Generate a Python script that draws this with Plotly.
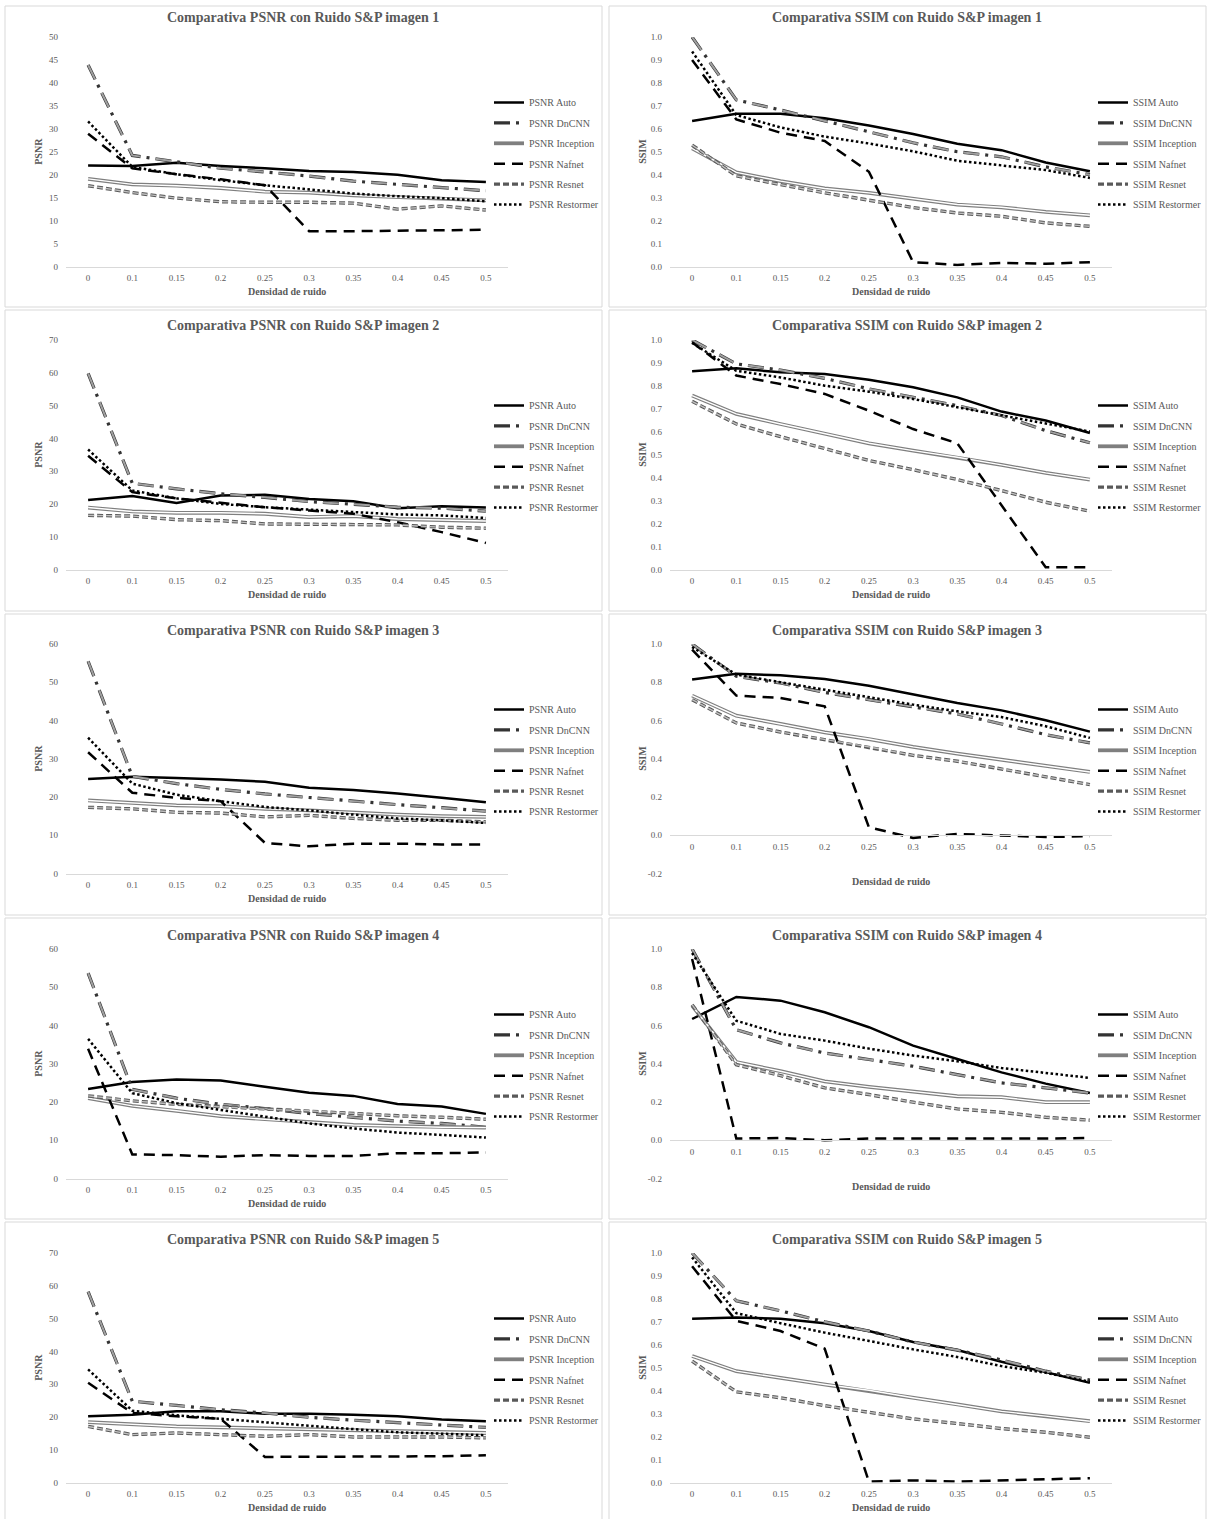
import plotly.graph_objects as go

W, H = 1209, 1519
SERIF = "Liberation Serif, Times New Roman, serif"
TEXT = "#595959"

categories = ["0", "0.1", "0.15", "0.2", "0.25", "0.3", "0.35", "0.4", "0.45", "0.5"]
methods = ["Auto", "DnCNN", "Inception", "Nafnet", "Resnet", "Restormer"]

# ---- PSNR / SSIM image 1
psnr1_auto = [22.0, 21.9, 22.6, 21.9, 21.4, 20.8, 20.6, 20.0, 18.8, 18.4]
psnr1_dncnn = [43.9, 24.2, 22.8, 21.4, 20.6, 19.7, 18.6, 17.9, 17.2, 16.5]
psnr1_inception = [19.1, 17.9, 17.6, 17.1, 16.3, 16.1, 15.5, 15.1, 14.9, 14.4]
psnr1_nafnet = [28.9, 21.4, 20.1, 19.0, 17.7, 7.7, 7.7, 7.8, 8.0, 8.0]
psnr1_resnet = [17.6, 16.1, 14.9, 14.1, 14.0, 14.0, 13.8, 12.5, 13.2, 12.3]
psnr1_restormer = [31.6, 21.7, 20.1, 18.8, 17.7, 16.8, 15.9, 15.3, 14.9, 14.2]

ssim1_auto = [0.634, 0.666, 0.666, 0.646, 0.614, 0.577, 0.535, 0.507, 0.453, 0.415]
ssim1_dncnn = [1.0, 0.726, 0.682, 0.636, 0.587, 0.539, 0.500, 0.478, 0.434, 0.400]
ssim1_inception = [0.515, 0.410, 0.372, 0.340, 0.321, 0.296, 0.270, 0.258, 0.238, 0.223]
ssim1_nafnet = [0.900, 0.641, 0.583, 0.547, 0.413, 0.019, 0.007, 0.016, 0.012, 0.019]
ssim1_resnet = [0.529, 0.395, 0.357, 0.321, 0.289, 0.257, 0.233, 0.219, 0.190, 0.175]
ssim1_restormer = [0.937, 0.660, 0.606, 0.566, 0.536, 0.502, 0.461, 0.442, 0.420, 0.386]

# ---- image 2
psnr2_auto = [21.2, 22.4, 20.3, 22.6, 22.8, 21.5, 20.8, 18.7, 19.3, 18.9]
psnr2_dncnn = [59.8, 26.3, 24.6, 23.1, 22.0, 20.7, 19.9, 19.0, 18.7, 17.8]
psnr2_inception = [18.9, 17.7, 17.3, 17.3, 17.0, 16.0, 16.3, 15.4, 15.1, 14.8]
psnr2_nafnet = [34.7, 23.6, 21.7, 20.3, 19.0, 18.0, 17.0, 14.4, 11.4, 8.1]
psnr2_resnet = [16.5, 16.3, 15.2, 14.9, 13.9, 13.8, 13.8, 13.6, 12.9, 12.6]
psnr2_restormer = [36.6, 24.1, 21.7, 20.0, 19.0, 18.3, 17.5, 16.8, 16.5, 15.7]

ssim2_auto = [0.864, 0.877, 0.859, 0.852, 0.827, 0.794, 0.750, 0.688, 0.649, 0.595]
ssim2_dncnn = [1.0, 0.896, 0.869, 0.833, 0.787, 0.750, 0.714, 0.671, 0.605, 0.552]
ssim2_inception = [0.758, 0.678, 0.634, 0.591, 0.550, 0.518, 0.489, 0.456, 0.421, 0.392]
ssim2_nafnet = [0.990, 0.845, 0.808, 0.765, 0.692, 0.612, 0.550, 0.279, 0.010, 0.010]
ssim2_resnet = [0.733, 0.634, 0.579, 0.528, 0.475, 0.435, 0.392, 0.344, 0.293, 0.254]
ssim2_restormer = [0.987, 0.866, 0.837, 0.801, 0.775, 0.743, 0.707, 0.671, 0.634, 0.601]

# ---- image 3
psnr3_auto = [24.7, 25.3, 25.0, 24.6, 24.0, 22.4, 21.8, 20.9, 19.8, 18.6]
psnr3_dncnn = [55.5, 25.4, 23.5, 22.0, 20.8, 19.8, 18.9, 18.0, 17.2, 16.3]
psnr3_inception = [19.1, 18.5, 17.8, 17.6, 16.9, 16.5, 15.9, 15.4, 15.0, 14.8]
psnr3_nafnet = [31.7, 21.1, 19.8, 18.9, 8.0, 7.1, 7.8, 7.8, 7.6, 7.6]
psnr3_resnet = [17.3, 16.9, 16.0, 15.8, 14.8, 15.2, 14.4, 13.9, 13.9, 13.5]
psnr3_restormer = [35.5, 23.5, 20.6, 18.9, 17.4, 16.5, 15.4, 14.4, 13.9, 13.2]

ssim3_auto = [0.814, 0.845, 0.836, 0.817, 0.782, 0.735, 0.692, 0.653, 0.601, 0.542]
ssim3_dncnn = [1.0, 0.831, 0.796, 0.747, 0.709, 0.671, 0.634, 0.582, 0.526, 0.483]
ssim3_inception = [0.730, 0.625, 0.582, 0.538, 0.503, 0.462, 0.427, 0.395, 0.361, 0.331]
ssim3_nafnet = [0.970, 0.730, 0.718, 0.674, 0.042, -0.014, 0.007, 0.0, -0.009, -0.005]
ssim3_resnet = [0.709, 0.587, 0.540, 0.500, 0.462, 0.418, 0.387, 0.347, 0.308, 0.265]
ssim3_restormer = [0.984, 0.840, 0.800, 0.761, 0.723, 0.683, 0.648, 0.618, 0.570, 0.509]

# ---- image 4
psnr4_auto = [23.4, 25.2, 25.9, 25.6, 24.0, 22.4, 21.6, 19.5, 18.8, 16.9]
psnr4_dncnn = [53.7, 23.3, 21.0, 19.4, 18.3, 17.0, 16.0, 15.0, 14.4, 13.4]
psnr4_inception = [21.0, 19.0, 17.7, 16.3, 15.5, 14.7, 14.0, 13.7, 13.4, 13.3]
psnr4_nafnet = [33.9, 6.3, 6.1, 5.7, 6.1, 5.9, 5.9, 6.6, 6.6, 6.8]
psnr4_resnet = [21.6, 20.3, 19.4, 18.8, 18.1, 17.7, 17.0, 16.4, 16.0, 15.5]
psnr4_restormer = [36.5, 22.3, 19.7, 17.9, 16.2, 14.4, 13.1, 12.0, 11.4, 10.7]

ssim4_auto = [0.634, 0.749, 0.730, 0.669, 0.591, 0.495, 0.425, 0.355, 0.296, 0.247]
ssim4_dncnn = [1.0, 0.578, 0.509, 0.456, 0.422, 0.387, 0.343, 0.300, 0.274, 0.247]
ssim4_inception = [0.704, 0.409, 0.361, 0.308, 0.279, 0.256, 0.230, 0.225, 0.199, 0.199]
ssim4_nafnet = [0.948, 0.009, 0.012, 0.0, 0.009, 0.009, 0.009, 0.007, 0.009, 0.012]
ssim4_resnet = [0.709, 0.395, 0.338, 0.274, 0.239, 0.199, 0.164, 0.146, 0.120, 0.105]
ssim4_restormer = [0.979, 0.625, 0.556, 0.521, 0.479, 0.443, 0.413, 0.378, 0.352, 0.326]

# ---- image 5
psnr5_auto = [20.2, 20.7, 21.7, 21.7, 21.0, 21.0, 20.7, 20.2, 19.2, 18.7]
psnr5_dncnn = [58.2, 24.8, 23.5, 22.2, 21.2, 19.9, 19.0, 18.2, 17.4, 16.8]
psnr5_inception = [18.4, 17.7, 17.1, 16.8, 16.5, 16.3, 15.9, 15.6, 15.3, 15.1]
psnr5_nafnet = [30.4, 21.2, 20.2, 19.4, 7.8, 7.8, 8.0, 8.0, 8.0, 8.3]
psnr5_resnet = [17.1, 14.6, 15.1, 14.6, 14.1, 14.6, 13.9, 13.9, 13.9, 13.6]
psnr5_restormer = [34.5, 21.9, 20.5, 19.4, 18.2, 17.3, 16.3, 15.3, 14.9, 14.4]

ssim5_auto = [0.714, 0.719, 0.714, 0.694, 0.660, 0.612, 0.577, 0.526, 0.481, 0.434]
ssim5_dncnn = [1.0, 0.792, 0.748, 0.700, 0.660, 0.612, 0.577, 0.534, 0.485, 0.446]
ssim5_inception = [0.551, 0.485, 0.456, 0.427, 0.402, 0.369, 0.340, 0.310, 0.289, 0.267]
ssim5_nafnet = [0.942, 0.704, 0.660, 0.583, 0.004, 0.009, 0.004, 0.009, 0.012, 0.019]
ssim5_resnet = [0.529, 0.395, 0.369, 0.335, 0.306, 0.277, 0.257, 0.235, 0.219, 0.197]
ssim5_restormer = [0.981, 0.738, 0.694, 0.653, 0.617, 0.580, 0.547, 0.507, 0.478, 0.439]

# ---- tick labels
psnr_ticks_50 = [0, 5, 10, 15, 20, 25, 30, 35, 40, 45, 50]
psnr_ticks_60 = [0, 10, 20, 30, 40, 50, 60]
psnr_ticks_70 = [0, 10, 20, 30, 40, 50, 60, 70]
ssim_ticks_pos = [0.0, 0.1, 0.2, 0.3, 0.4, 0.5, 0.6, 0.7, 0.8, 0.9, 1.0]
ssim_ticks_neg = [-0.2, 0.0, 0.2, 0.4, 0.6, 0.8, 1.0]

panels = [
    ("PSNR", 1, [psnr1_auto, psnr1_dncnn, psnr1_inception, psnr1_nafnet, psnr1_resnet, psnr1_restormer], psnr_ticks_50),
    ("SSIM", 1, [ssim1_auto, ssim1_dncnn, ssim1_inception, ssim1_nafnet, ssim1_resnet, ssim1_restormer], ssim_ticks_pos),
    ("PSNR", 2, [psnr2_auto, psnr2_dncnn, psnr2_inception, psnr2_nafnet, psnr2_resnet, psnr2_restormer], psnr_ticks_70),
    ("SSIM", 2, [ssim2_auto, ssim2_dncnn, ssim2_inception, ssim2_nafnet, ssim2_resnet, ssim2_restormer], ssim_ticks_pos),
    ("PSNR", 3, [psnr3_auto, psnr3_dncnn, psnr3_inception, psnr3_nafnet, psnr3_resnet, psnr3_restormer], psnr_ticks_60),
    ("SSIM", 3, [ssim3_auto, ssim3_dncnn, ssim3_inception, ssim3_nafnet, ssim3_resnet, ssim3_restormer], ssim_ticks_neg),
    ("PSNR", 4, [psnr4_auto, psnr4_dncnn, psnr4_inception, psnr4_nafnet, psnr4_resnet, psnr4_restormer], psnr_ticks_60),
    ("SSIM", 4, [ssim4_auto, ssim4_dncnn, ssim4_inception, ssim4_nafnet, ssim4_resnet, ssim4_restormer], ssim_ticks_neg),
    ("PSNR", 5, [psnr5_auto, psnr5_dncnn, psnr5_inception, psnr5_nafnet, psnr5_resnet, psnr5_restormer], psnr_ticks_70),
    ("SSIM", 5, [ssim5_auto, ssim5_dncnn, ssim5_inception, ssim5_nafnet, ssim5_resnet, ssim5_restormer], ssim_ticks_pos),
]

# ---- line styles (first layer carries the legend entry)
styles = {
    "Auto": [dict(color="#000000", width=2.5, dash="solid")],
    "DnCNN": [dict(color="#333333", width=3.2, dash="16px,6px,3px,6px"),
              dict(color="#a0a0a0", width=2.0, dash="16px,15px")],
    "Inception": [dict(color="#7f7f7f", width=3.8, dash="solid"),
                  dict(color="#ffffff", width=1.4, dash="solid")],
    "Nafnet": [dict(color="#000000", width=2.5, dash="11px,7px")],
    "Resnet": [dict(color="#595959", width=3.4, dash="6px,3px"),
               dict(color="#bfbfbf", width=1.4, dash="6px,3px")],
    "Restormer": [dict(color="#000000", width=2.5, dash="2.5px,2.5px")],
}

row_top = [37, 340, 644, 949, 1253]
title_y = [18, 326, 630, 935, 1239]
PLOT_H = 229.5
box_top = [6, 310, 614, 918, 1222]
col_off = [0, 604]

def px(x):
    return x / W

def py(y):
    return 1 - y / H

fig = go.Figure()
layout = dict(
    width=W, height=H,
    margin=dict(l=0, r=0, t=0, b=0, autoexpand=False),
    paper_bgcolor="white", plot_bgcolor="white",
    showlegend=True,
)
annotations = []
shapes = []

for k, (metric, img, series, ticks) in enumerate(panels):
    r, c = divmod(k, 2)
    off = col_off[c]
    n = k + 1
    xname = "xaxis" if n == 1 else f"xaxis{n}"
    yname = "yaxis" if n == 1 else f"yaxis{n}"
    xref = "x" if n == 1 else f"x{n}"
    yref = "y" if n == 1 else f"y{n}"
    legname = "legend" if n == 1 else f"legend{n}"

    top = row_top[r]
    bottom = top + PLOT_H
    x0, x1 = 66 + off, 508 + off
    ymin, ymax = ticks[0], ticks[-1]
    ydom = [py(bottom), py(top)]

    shapes.append(dict(type="rect", xref="paper", yref="paper",
                       x0=px(5 + off), x1=px(602 + off),
                       y0=py(box_top[r] + 301), y1=py(box_top[r]),
                       line=dict(color="#d9d9d9", width=1), fillcolor="rgba(0,0,0,0)", layer="below"))

    if metric == "SSIM":
        ticktext = [f"{v:.1f}" for v in ticks]
    else:
        ticktext = [str(v) for v in ticks]

    xax = dict(domain=[px(x0), px(x1)], type="category", range=[-0.5, 9.5],
               showline=True, linecolor="#d9d9d9", linewidth=1, ticks="",
               showgrid=False, zeroline=False, fixedrange=True,
               tickfont=dict(family=SERIF, size=9, color=TEXT), ticklabelstandoff=3)
    if ymin < 0:
        frac = (0 - ymin) / (ymax - ymin)
        xax["anchor"] = "free"
        xax["position"] = ydom[0] + (ydom[1] - ydom[0]) * frac
    else:
        xax["anchor"] = yref
    layout[xname] = xax
    layout[yname] = dict(domain=ydom, anchor=xref, range=[ymin, ymax],
                         tickvals=ticks, ticktext=ticktext, ticks="",
                         showgrid=False, zeroline=False, showline=False, fixedrange=True,
                         tickfont=dict(family=SERIF, size=9, color=TEXT), ticklabelstandoff=7)

    layout[legname] = dict(x=px(489 + off), y=py(top + 51), xanchor="left", yanchor="top",
                           bgcolor="rgba(0,0,0,0)", font=dict(family=SERIF, size=10, color=TEXT),
                           tracegroupgap=1.4, itemwidth=30, itemclick=False, itemdoubleclick=False)

    for m, vals in zip(methods, series):
        for li, ln in enumerate(styles[m]):
            fig.add_trace(go.Scatter(
                x=categories, y=vals, mode="lines", line=ln,
                name=f"{metric} {m}", legend=legname, legendgroup=f"{n}-{m}",
                showlegend=(li == 0), xaxis=xref, yaxis=yref, cliponaxis=False,
                hoverinfo="skip" if li > 0 else None,
            ))

    annotations.append(dict(text=f"<b>Comparativa {metric} con Ruido S&P imagen {img}</b>",
                            xref="paper", yref="paper", x=px(303 + off), y=py(title_y[r]),
                            xanchor="center", yanchor="middle", showarrow=False,
                            font=dict(family=SERIF, size=14, color=TEXT)))
    xt_y = bottom + 8 if ymin < 0 else bottom + 25
    annotations.append(dict(text="<b>Densidad de ruido</b>", xref="paper", yref="paper",
                            x=px((x0 + x1) / 2), y=py(xt_y), xanchor="center", yanchor="middle",
                            showarrow=False, font=dict(family=SERIF, size=10, color=TEXT)))
    annotations.append(dict(text=f"<b>{metric}</b>", xref="paper", yref="paper",
                            x=px(39 + off), y=py((top + bottom) / 2), xanchor="center", yanchor="middle",
                            textangle=-90, showarrow=False,
                            font=dict(family=SERIF, size=10, color=TEXT)))

layout["annotations"] = annotations
layout["shapes"] = shapes
fig.update_layout(**layout)
fig.write_html("out.html", config={"displayModeBar": False},
               post_script="document.body.style.margin='0px';document.body.style.overflow='hidden';")
